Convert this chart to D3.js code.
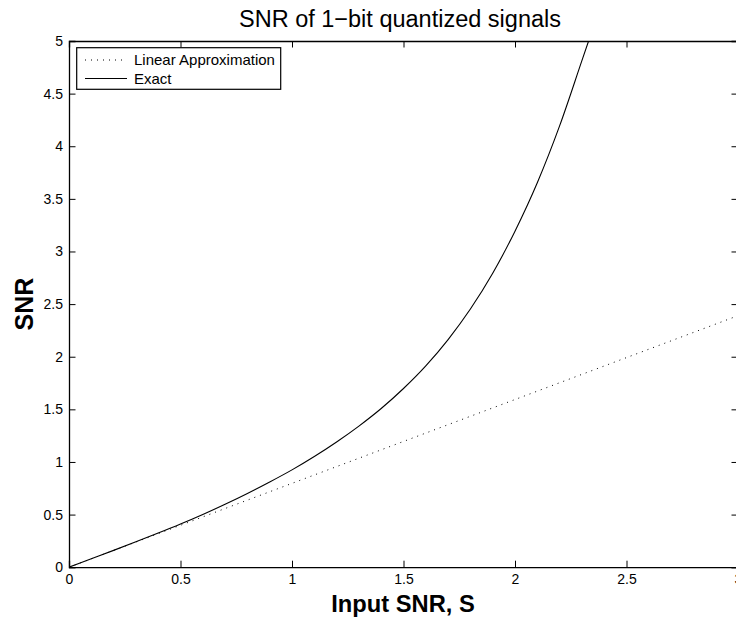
<!DOCTYPE html>
<html><head><meta charset="utf-8">
<script src="https://cdn.jsdelivr.net/npm/d3@7"></script>
<style>body{margin:0;background:#fff}svg{display:block}text{font-family:"Liberation Sans",Arial,Helvetica,sans-serif}</style>
</head><body>
<svg id="c" width="736" height="617"></svg>
<script>
const xTicks = [0, 0.5, 1, 1.5, 2, 2.5, 3];
const yTicks = [0, 0.5, 1, 1.5, 2, 2.5, 3, 3.5, 4, 4.5, 5];
const seriesNames = ["Linear Approximation", "Exact"];
const linearX = [0, 3];
const linearY = [0, 2.39];
const exactX = [0, 0.1, 0.2, 0.3, 0.4, 0.5, 0.6, 0.7, 0.8, 0.9, 1.0, 1.1, 1.2, 1.3, 1.4, 1.5, 1.6, 1.7, 1.8, 1.9, 2.0, 2.1, 2.2, 2.3, 2.33];
const exactY = [0, 0.080, 0.160, 0.241, 0.324, 0.410, 0.501, 0.598, 0.701, 0.810, 0.925, 1.052, 1.190, 1.341, 1.508, 1.698, 1.913, 2.163, 2.453, 2.793, 3.193, 3.653, 4.193, 4.813, 5.0];

const svg = d3.select("#c");
const L = 69, R = 738, T = 41, B = 567.2;
const x = d3.scaleLinear().domain([0, 3]).range([L, R]);
const y = d3.scaleLinear().domain([0, 5]).range([B, T]);
const tl = 6.5;

svg.append("defs").append("clipPath").attr("id","clip")
  .append("rect").attr("x",L).attr("y",T).attr("width",R-L).attr("height",B-T);

const plot = svg.append("g").attr("clip-path","url(#clip)");
plot.append("path").datum(linearX.map((v,i)=>[v,linearY[i]]))
  .attr("d",d3.line().x(d=>x(d[0])).y(d=>y(d[1])))
  .attr("fill","none").attr("stroke","#000").attr("stroke-width",1)
  .attr("stroke-dasharray","1 5");
plot.append("path").datum(exactX.map((v,i)=>[v,exactY[i]]))
  .attr("d",d3.line().x(d=>x(d[0])).y(d=>y(d[1])).curve(d3.curveMonotoneX))
  .attr("fill","none").attr("stroke","#000").attr("stroke-width",1.1);

// axes
const gx = svg.append("g").attr("transform",`translate(0,${B})`)
  .call(d3.axisBottom(x).tickValues(xTicks).tickSize(-tl).tickPadding(7).tickFormat(d3.format("~g")));
const gxt = svg.append("g").attr("transform",`translate(0,${T})`)
  .call(d3.axisTop(x).tickValues(xTicks).tickSize(-tl).tickFormat(""));
const gy = svg.append("g").attr("transform",`translate(${L},0)`)
  .call(d3.axisLeft(y).tickValues(yTicks).tickSize(-tl).tickPadding(6).tickFormat(d3.format("~g")));
const gyr = svg.append("g").attr("transform",`translate(${R},0)`)
  .call(d3.axisRight(y).tickValues(yTicks).tickSize(-tl).tickFormat(""));
[gx,gxt,gy,gyr].forEach(g=>{
  g.select(".domain").attr("stroke","#000").attr("stroke-width",1.3);
  g.selectAll(".tick line").attr("stroke","#000").attr("stroke-width",1);
  g.selectAll(".tick text").attr("fill","#000").attr("font-size",14)
   .attr("font-family","'Liberation Sans',Arial,sans-serif");
});

// title & labels
svg.append("text").attr("x",400).attr("y",27.3).attr("text-anchor","middle")
  .attr("font-size",23.5).text("SNR of 1\u2212bit quantized signals");
svg.append("text").attr("x",403).attr("y",612).attr("text-anchor","middle")
  .attr("font-size",23.7).attr("font-weight","bold").text("Input SNR, S");
svg.append("text").attr("transform",`translate(33.3,${(T+B)/2}) rotate(-90)`).attr("text-anchor","middle")
  .attr("font-size",25).attr("font-weight","bold").text("SNR");

// legend
const lg = svg.append("g");
lg.append("rect").attr("x",76.7).attr("y",47.7).attr("width",204).attr("height",41.6)
  .attr("fill","#fff").attr("stroke","#000").attr("stroke-width",1.2);
const styles = ["1 5", null];
seriesNames.forEach((n,i)=>{
  const yy = 60 + i*18.5;
  const ln = lg.append("line").attr("x1",85).attr("x2",127).attr("y1",yy).attr("y2",yy)
    .attr("stroke","#000").attr("stroke-width",1);
  if (styles[i]) ln.attr("stroke-dasharray",styles[i]);
  lg.append("text").attr("x",134).attr("y",yy+5).attr("font-size",15).text(n);
});
</script>
</body></html>
